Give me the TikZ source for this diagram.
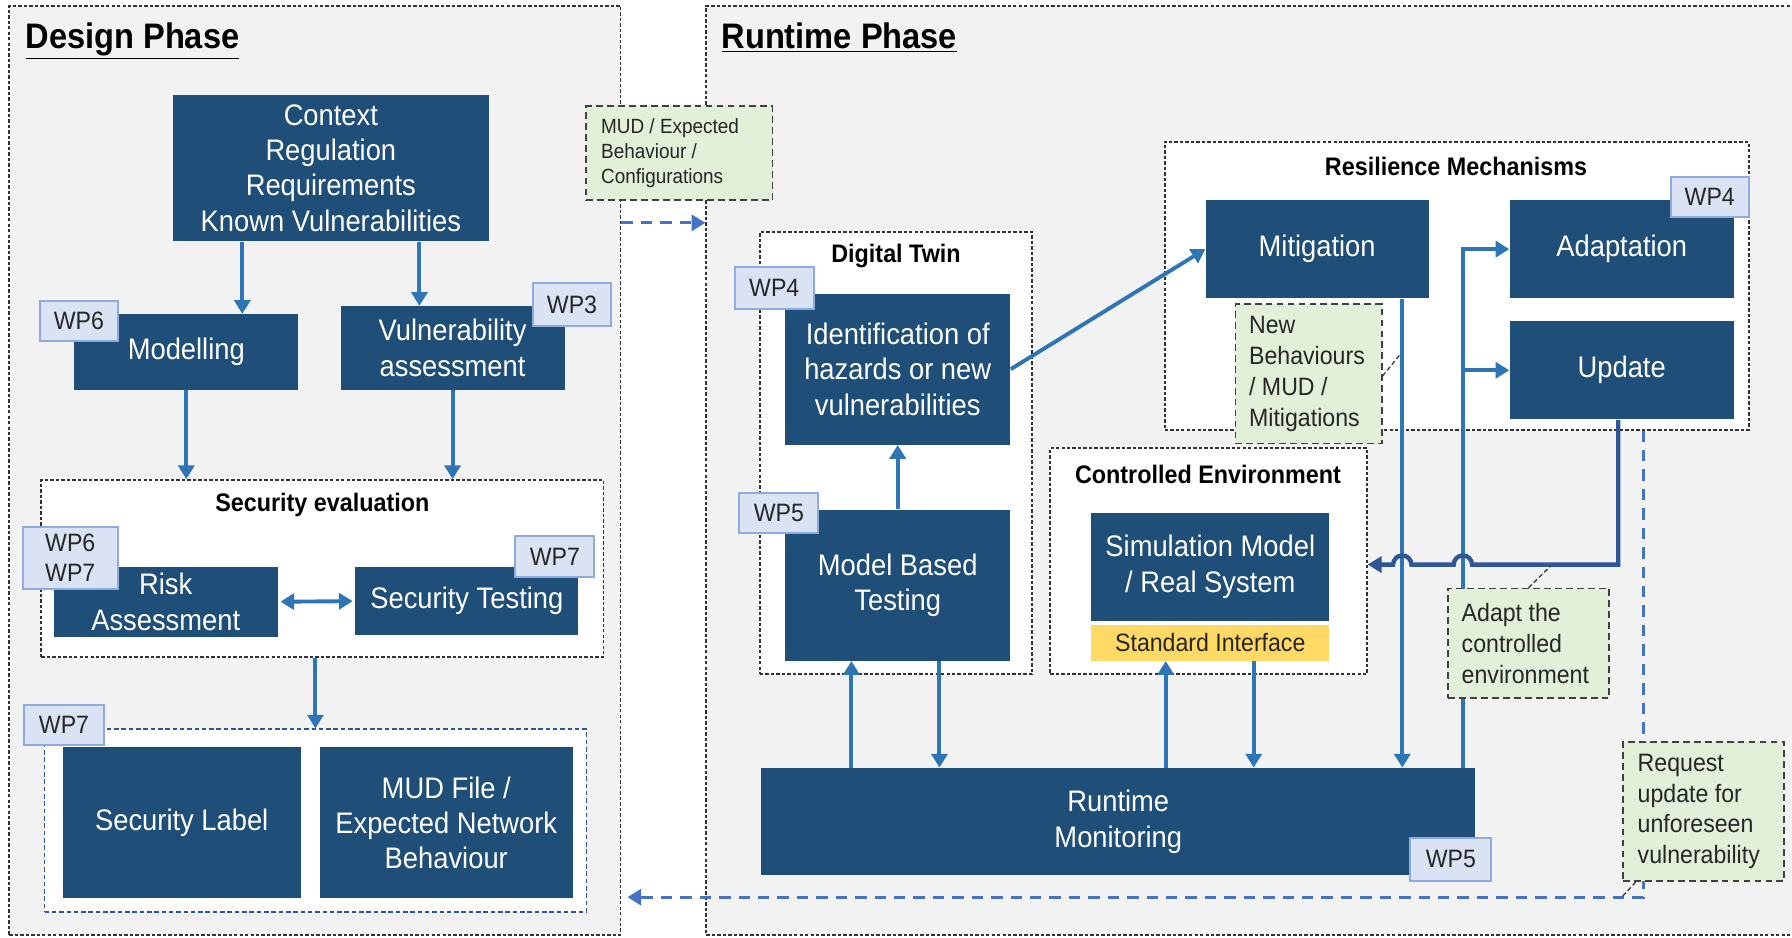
\documentclass[tikz,border=0pt]{standalone}
\usepackage{fontspec}
\setmainfont{Liberation Sans}[FakeStretch=0.92]
\usetikzlibrary{arrows.meta,fit,calc}

\definecolor{boxblue}{HTML}{1F4E79}
\definecolor{flowblue}{HTML}{2E75B6}
\definecolor{feedblue}{HTML}{2F5597}
\definecolor{dashblue}{HTML}{4472C4}
\definecolor{tagfill}{HTML}{DAE3F3}
\definecolor{tagline}{HTML}{8FAADC}
\definecolor{notefill}{HTML}{E2F0D9}
\definecolor{phasegrey}{HTML}{F2F2F2}
\definecolor{ifyellow}{HTML}{FFD966}
\definecolor{inkgrey}{HTML}{262626}

\newcommand{\setfs}[2]{\fontsize{#1}{#2}\selectfont}

\tikzset{
  rect/.style args={#1/#2}{minimum width=#1*0.5pt, minimum height=#2*0.5pt},
  phase/.style={draw=black!80, fill=phasegrey, line width=0.8pt, dash pattern=on 1.5pt off 0.9pt, inner sep=0pt},
  groupbox/.style={draw=black!80, fill=white, line width=0.8pt, dash pattern=on 1.5pt off 0.9pt, inner sep=0pt},
  outgroup/.style={draw=feedblue, fill=white, line width=0.6pt, dash pattern=on 2pt off 1.2pt, inner sep=0pt},
  blk/.style={fill=boxblue, text=white, inner sep=0pt, align=center, font=\setfs{13}{15.5}},
  tagbox/.style={fill=tagfill, draw=tagline, line width=0.9pt, inner sep=0pt, align=center, text=inkgrey, font=\setfs{11}{13}},
  notebox/.style={fill=notefill, draw=black!75, line width=0.75pt, dash pattern=on 3pt off 1.8pt, inner sep=0pt, align=flush left, text=inkgrey},
  grouptitle/.style={font=\bfseries\setfs{11.1}{13}, inner sep=0pt, text=black},
  phasetitle/.style={font=\bfseries\setfs{15.5}{18}, inner sep=0pt, anchor=base west},
  tip/.style={-{Triangle[length=6pt,width=7pt]}},
  flow/.style={draw=flowblue, line width=1.7pt, tip},
  feed/.style={draw=feedblue, line width=1.9pt, tip},
  reqline/.style={draw=dashblue, line width=1.3pt, dash pattern=on 5pt off 3.5pt},
  leader/.style={draw=black!75, line width=0.6pt, dash pattern=on 2pt off 1.2pt},
}

\begin{document}
\begin{tikzpicture}[x=0.5pt, y=-0.5pt]
\useasboundingbox (0,0) rectangle (1568,820);

% phase frames
\node[phase, fit={(8,5) (543,818)}] (design) {};
\node[phase, fit={(618,5) (1600,818)}] (runtime) {};
\node[phasetitle] (dptitle) at (22,42) {\underline{Design Phase}};
\node[phasetitle] (rptitle) at (631,42) {\underline{Runtime Phase}};

% grouping frames
\node[groupbox, fit={(36,420) (528,575)}] (seceval) {};
\node[outgroup, fit={(39,638) (513,798)}] (outputs) {};
\node[groupbox, fit={(665,203) (903,590)}] (twin) {};
\node[groupbox, fit={(1019,124) (1530,376)}] (resil) {};
\node[groupbox, fit={(919,392) (1196,590)}] (ctrlenv) {};

\node[grouptitle] (setitle) at (282,442) {Security evaluation};
\node[grouptitle] (dttitle) at (784,224) {Digital Twin};
\node[grouptitle] (rmtitle) at (1274,146) {Resilience Mechanisms};
\node[grouptitle] (cetitle) at (1057,415) {Controlled Environment};

% design phase blocks
\node[blk, rect=277/128] (context) at (289.5,147) {Context\\Regulation\\Requirements\\Known Vulnerabilities};
\node[blk, rect=196/66] (modelling) at (163,308) {Modelling};
\node[blk, rect=196/73] (vuln) at (396,304.5) {Vulnerability\\assessment};
\node[blk, rect=196/61] (risk) at (145,526.5) {Risk\\Assessment};
\node[blk, rect=195/60] (sectest) at (408.5,526) {Security Testing};
\node[blk, rect=208/132] (label) at (159,720) {Security Label};
\node[blk, rect=221/132] (mudfile) at (390.5,720) {MUD File /\\Expected Network\\Behaviour};

% runtime phase blocks
\node[blk, rect=197/132] (ident) at (785.5,323) {Identification of\\hazards or new\\vulnerabilities};
\node[blk, rect=197/132] (mbt) at (785.5,512) {Model Based\\Testing};
\node[blk, rect=195/86] (mitigation) at (1152.5,218) {Mitigation};
\node[blk, rect=196/86] (adaptation) at (1419,218) {Adaptation};
\node[blk, rect=196/86] (update) at (1419,324) {Update};
\node[blk, rect=208/94] (simmodel) at (1059,496) {Simulation Model\\/ Real System};
\node[rect=208/31, fill=ifyellow, inner sep=0pt, text=inkgrey, font=\setfs{11}{13}] (stdif) at (1059,562.5) {Standard Interface};
\node[blk, rect=625/94] (rm) at (978.5,719) {Runtime\\Monitoring};

% helper positions for connectors
\coordinate (xa) at (212,0);
\coordinate (xb) at (367,0);
\coordinate (xc) at (276,0);
\coordinate (xd) at (745,0);
\coordinate (xe) at (822,0);
\coordinate (xf) at (1020,0);
\coordinate (xg) at (1097,0);
\coordinate (xm) at (1227,0);
\coordinate (xu) at (1280,0);
\coordinate (xv) at (1416,0);
\coordinate (xr) at (1438,0);
\coordinate (ymud) at (0,195);
\coordinate (yfeed) at (0,494);
\coordinate (yreq) at (0,785);
\coordinate (reqend) at (549,785);
\coordinate (l1) at (1226,309);
\coordinate (l2) at (1357,495);
\coordinate (l3) at (1419,785);

% design phase flows
\draw[flow] (context.south -| xa) -- (modelling.north -| xa);
\draw[flow] (context.south -| xb) -- (vuln.north -| xb);
\draw[flow] (modelling.south) -- (modelling.south |- seceval.north);
\draw[flow] (vuln.south) -- (vuln.south |- seceval.north);
\draw[flow, {Triangle[length=6pt,width=7pt]}-{Triangle[length=6pt,width=7pt]}, shorten <=1pt, shorten >=1pt] (risk.east) -- (sectest.west);
\draw[flow] (seceval.south -| xc) -- (outputs.north -| xc);

% hand-over to runtime
\draw[reqline, tip] (design.east |- ymud) -- (runtime.west |- ymud);

% runtime flows
\draw[flow] (mbt.north) -- (ident.south);
\draw[flow] (ident.east) -- (mitigation.west);
\draw[flow] (rm.north -| xd) -- (mbt.south -| xd);
\draw[flow] (mbt.south -| xe) -- (rm.north -| xe);
\draw[flow] (rm.north -| xf) -- (stdif.south -| xf);
\draw[flow] (stdif.south -| xg) -- (rm.north -| xg);
\draw[flow] (mitigation.south -| xm) -- (rm.north -| xm);
\draw[flow] (rm.north -| xu) -- (xu |- adaptation.west) -- (adaptation.west);
\draw[flow] (xu |- update.west) -- (update.west);

% update feeds back into the controlled environment, hopping over the risers
\draw[feed] (update.south -| xv) -- (xv |- yfeed)
  -- ($(xu |- yfeed)+(8,0)$) arc[start angle=0, end angle=180, radius=4pt]
  -- ($(xm |- yfeed)+(8,0)$) arc[start angle=0, end angle=180, radius=4pt]
  -- (ctrlenv.east |- yfeed);

% request for an update back to design
\draw[reqline, tip] (resil.south -| xr) -- (xr |- yreq) -- (reqend);

% annotation notes
\node[notebox, rect=163/82, text width=68.5pt, font=\setfs{9}{11}] (mudnote) at (594.5,134) {MUD / Expected\\Behaviour /\\Configurations};
\node[notebox, rect=128/122, text width=52pt, font=\setfs{11}{13.5}] (newnote) at (1145,327) {New\\Behaviours\\/ MUD /\\Mitigations};
\node[notebox, rect=141/96, text width=58.5pt, font=\setfs{11}{13.5}] (adaptnote) at (1337.5,563) {Adapt the\\controlled\\environment};
\node[notebox, rect=141/122, text width=57.5pt, font=\setfs{11}{13.5}] (reqnote) at (1490.5,710) {Request\\update for\\unforeseen\\vulnerability};

\draw[leader] ([yshift=-1pt]newnote.east) -- (l1);
\draw[leader] (adaptnote.north) -- (l2);
\draw[leader] ([xshift=6pt]reqnote.south west) -- (l3);

% work package tags
\node[tagbox, rect=68/35] (wpmod) at (69,280.5) {WP6};
\node[tagbox, rect=69/37] (wpvuln) at (500.5,266.5) {WP3};
\node[tagbox, rect=83/54] (wprisk) at (61.5,488) {WP6\\WP7};
\node[tagbox, rect=69/36] (wptest) at (485.5,487) {WP7};
\node[tagbox, rect=70/35] (wpout) at (56,634.5) {WP7};
\node[tagbox, rect=69/36] (wpident) at (677.5,252) {WP4};
\node[tagbox, rect=69/35] (wpmbt) at (681.5,448.5) {WP5};
\node[tagbox, rect=68/35] (wpadapt) at (1496,172.5) {WP4};
\node[tagbox, rect=71/38] (wprm) at (1269.5,752) {WP5};
\end{tikzpicture}
\end{document}
